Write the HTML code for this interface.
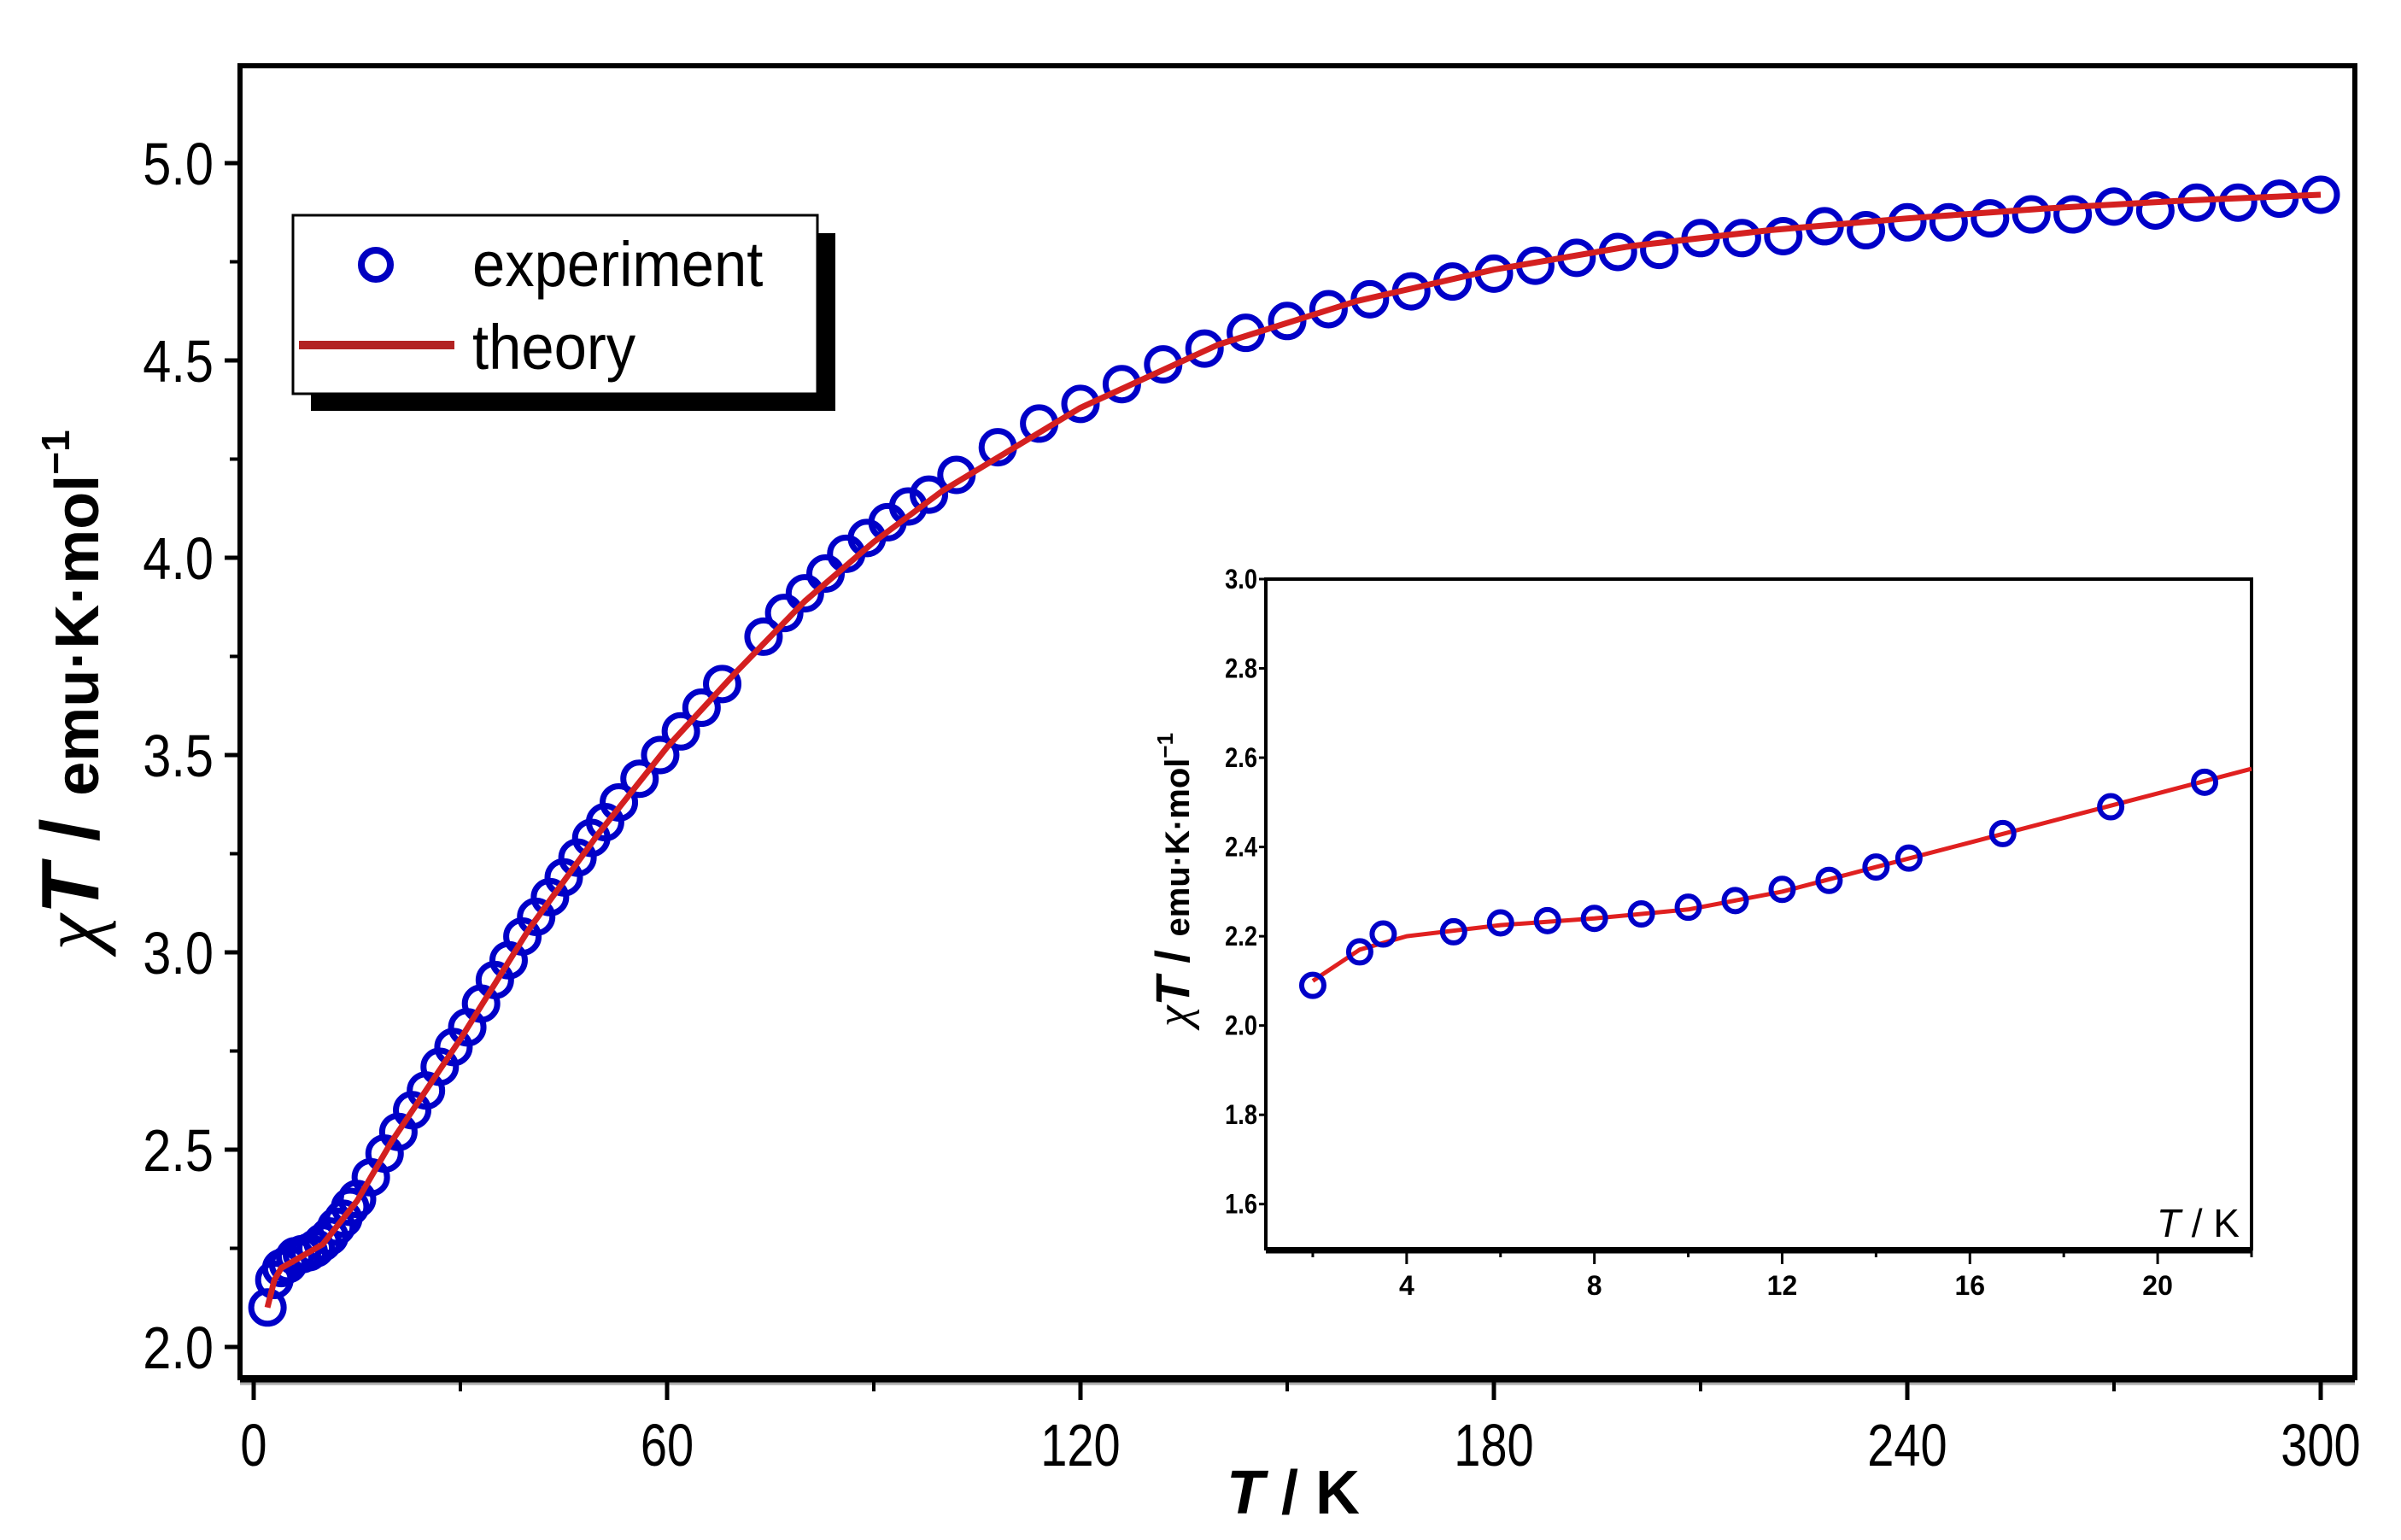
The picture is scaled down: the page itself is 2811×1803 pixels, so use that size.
<!DOCTYPE html>
<html><head><meta charset="utf-8"><style>
html,body{margin:0;padding:0;background:#fff;}
svg{display:block;font-family:"Liberation Sans",Arial,sans-serif;}
</style></head><body>
<svg id="chart" width="2811" height="1803" viewBox="0 0 2811 1803" xmlns="http://www.w3.org/2000/svg">
<rect x="0" y="0" width="2811" height="1803" fill="#fff"/>
<g id="main"></g>
<g id="inset"></g>
<g id="legend">
  <rect x="364" y="273" width="614" height="208" fill="#000"/>
  <rect x="343" y="252" width="614" height="209" fill="#fff" stroke="#000" stroke-width="3"/>
  <circle cx="440" cy="310" r="17" fill="none" stroke="#0000c0" stroke-width="8"/>
  <text x="553" y="335" font-size="74" fill="#000" transform="translate(553 0) scale(0.93 1) translate(-553 0)">experiment</text>
  <line x1="350" y1="404" x2="532" y2="404" stroke="#b22222" stroke-width="10"/>
  <text x="553" y="432" font-size="74" fill="#000" transform="translate(553 0) scale(0.93 1) translate(-553 0)">theory</text>
</g>
</svg>
<script>
// main chart data
const expT = [2,3,4,5,6,7,8,9,10,11,12,13,14,15,17,19,21,23,25,27,29,31,33,35,37,39,41,43,45,47,49,51,53,56,59,62,65,68,74,77,80,83,86,89,92,95,98,102,108,114,120,126,132,138,144,150,156,162,168,174,180,186,192,198,204,210,216,222,228,234,240,246,252,258,264,270,276,282,288,294,300];
const expChi = [2.10,2.17,2.20,2.21,2.23,2.235,2.24,2.25,2.265,2.28,2.305,2.325,2.355,2.375,2.43,2.49,2.545,2.60,2.65,2.71,2.76,2.81,2.87,2.93,2.98,3.04,3.09,3.14,3.19,3.24,3.29,3.33,3.38,3.44,3.50,3.56,3.62,3.68,3.80,3.86,3.91,3.96,4.01,4.05,4.09,4.13,4.16,4.21,4.28,4.34,4.39,4.44,4.49,4.53,4.57,4.60,4.63,4.655,4.675,4.70,4.72,4.74,4.76,4.775,4.78,4.81,4.81,4.815,4.84,4.83,4.85,4.85,4.86,4.87,4.87,4.89,4.88,4.90,4.90,4.91,4.92];
const thT = [2,3,4,6,10,15,20,30,40,50,60,70,80,90,100,120,140,160,180,200,220,240,260,280,300];
const thChi = [2.10,2.17,2.20,2.22,2.26,2.37,2.52,2.78,3.06,3.30,3.52,3.71,3.89,4.04,4.17,4.38,4.54,4.65,4.73,4.79,4.83,4.86,4.885,4.905,4.92];
const xTicks = [0,60,120,180,240,300];
const xMinor = [30,90,150,210,270];
const yTicks = [2.0,2.5,3.0,3.5,4.0,4.5,5.0];
const yMinor = [2.25,2.75,3.25,3.75,4.25,4.75];
// inset data
const inExpT = [2,3,3.5,5,6,7,8,9,10,11,12,13,14,14.7,16.7,19,21];
const inExpChi = [2.09,2.165,2.205,2.21,2.23,2.235,2.24,2.25,2.265,2.28,2.305,2.325,2.355,2.375,2.43,2.49,2.545];
const inThT = [2,3,4,6,8,10,12,14,16,18,20,22];
const inThChi = [2.10,2.17,2.20,2.225,2.24,2.26,2.30,2.355,2.41,2.465,2.52,2.575];
const inXTicks = [4,8,12,16,20];
const inXMinor = [2,6,10,14,18,22];
const inYTicks = [1.6,1.8,2.0,2.2,2.4,2.6,2.8,3.0];

const NS = "http://www.w3.org/2000/svg";
function mk(parent, tag, attrs){
  const e = document.createElementNS(NS, tag);
  for (const k in attrs) e.setAttribute(k, attrs[k]);
  parent.appendChild(e);
  return e;
}
function narrow(e, x, s){ e.setAttribute('transform','translate('+x+' 0) scale('+s+' 1) translate('+(-x)+' 0)'); }
// main axes
const M = {l:281, r:2757, t:77, b:1613};
const mx = v => 297 + (v - 0) * (2717 - 297) / 300;
const my = v => 1577 - (v - 2.0) * 462;
const main = document.getElementById('main');

let e;
e = mk(main,'rect',{x:M.l,y:M.t,width:M.r-M.l,height:M.b-M.t,fill:'none',stroke:'#000','stroke-width':6});


e = mk(main,'line',{x1:M.l,y1:M.b+3,x2:M.r,y2:M.b+3,stroke:'#000','stroke-width':5});


e = mk(main,'line',{x1:M.l,y1:M.b+7,x2:M.r,y2:M.b+7,stroke:'#aaa','stroke-width':3});



xTicks.forEach(v=>{
  e = mk(main,'line',{x1:mx(v),y1:M.b,x2:mx(v),y2:M.b+26,stroke:'#000','stroke-width':5});
  
  
  e = mk(main,'text',{x:mx(v),y:1716,'font-size':70,'text-anchor':'middle',fill:'#000'});
  e.textContent = String(v);
  narrow(e, mx(v), 0.8);
  
  
});
xMinor.forEach(v=>{
  e = mk(main,'line',{x1:mx(v),y1:M.b,x2:mx(v),y2:M.b+16,stroke:'#000','stroke-width':4});
  
  
});
yTicks.forEach(v=>{
  e = mk(main,'line',{x1:263,y1:my(v),x2:M.l,y2:my(v),stroke:'#000','stroke-width':5});
  
  
  e = mk(main,'text',{x:250,y:my(v)+25,'font-size':70,'text-anchor':'end',fill:'#000'});
  e.textContent = v.toFixed(1);
  narrow(e, 250, 0.85);
  
  
});
yMinor.forEach(v=>{
  e = mk(main,'line',{x1:269,y1:my(v),x2:M.l,y2:my(v),stroke:'#000','stroke-width':4});
  
  
});
e = mk(main,'text',{x:1514,y:1772,'font-size':72,'font-weight':'bold','text-anchor':'middle',fill:'#000'});
e.innerHTML = '<tspan font-style="italic">T</tspan> / K';


e = mk(main,'text',{x:0,y:0,'font-weight':'bold','text-anchor':'middle',fill:'#000',transform:'translate(115,808) rotate(-90)'});
e.innerHTML = '<tspan font-size="96" font-style="italic" font-family="Liberation Serif,serif" font-weight="normal">χ</tspan><tspan font-size="96" font-style="italic">T</tspan><tspan font-size="96"> / </tspan><tspan font-size="72">emu·K·mol</tspan><tspan font-size="46" dy="-34">−1</tspan>';



let d = thT.map((t,i)=>(i?'L':'M')+mx(t).toFixed(1)+' '+my(thChi[i]).toFixed(1)).join(' ');
expT.forEach((t,i)=>{
  e = mk(main,'circle',{cx:mx(t),cy:my(expChi[i]),r:19,fill:'none',stroke:'#0000c8','stroke-width':7});
  
  
});
e = mk(main,'path',{d:d,fill:'none',stroke:'#d42020','stroke-width':7,'stroke-linejoin':'round'});



// inset
const I = {l:1482, r:2636, t:678, b:1462};
const ix = v => I.l + (v - 1) * (I.r - I.l) / 21;
const iy = v => I.b - (v - 1.5) * (I.b - I.t) / 1.5;
const inset = document.getElementById('inset');
e = mk(inset,'rect',{x:I.l,y:I.t,width:I.r-I.l,height:I.b-I.t,fill:'#fff',stroke:'#000','stroke-width':4});


e = mk(inset,'line',{x1:I.l,y1:I.b+3,x2:I.r,y2:I.b+3,stroke:'#000','stroke-width':5});


inXTicks.forEach(v=>{
  e = mk(inset,'line',{x1:ix(v),y1:I.b,x2:ix(v),y2:I.b+18,stroke:'#000','stroke-width':3});
  
  
  e = mk(inset,'text',{x:ix(v),y:1516,'font-size':32,'font-weight':'bold','text-anchor':'middle',fill:'#000'});
  e.textContent = String(v);
  
  
});
inXMinor.forEach(v=>{
  e = mk(inset,'line',{x1:ix(v),y1:I.b,x2:ix(v),y2:I.b+10,stroke:'#000','stroke-width':3});
  
  
});
inYTicks.forEach(v=>{
  e = mk(inset,'line',{x1:I.l-8,y1:iy(v),x2:I.l,y2:iy(v),stroke:'#000','stroke-width':3});
  
  
  e = mk(inset,'text',{x:I.l-10,y:iy(v)+11,'font-size':32,'font-weight':'bold','text-anchor':'end',fill:'#000'});
  e.textContent = v.toFixed(1);
  narrow(e, I.l-10, 0.85);
  
  
});
e = mk(inset,'text',{x:2622,y:1448,'font-size':46,'text-anchor':'end',fill:'#000'});
e.innerHTML = '<tspan font-style="italic">T</tspan> / K';


e = mk(inset,'text',{x:0,y:0,'font-weight':'bold','text-anchor':'middle',fill:'#000',transform:'translate(1392,1030) rotate(-90)'});
e.innerHTML = '<tspan font-size="56" font-style="italic" font-family="Liberation Serif,serif" font-weight="normal">χ</tspan><tspan font-size="56" font-style="italic">T</tspan><tspan font-size="56"> / </tspan><tspan font-size="40">emu·K·mol</tspan><tspan font-size="26" dy="-19">−1</tspan>';


let d2 = inThT.map((t,i)=>(i?'L':'M')+ix(t).toFixed(1)+' '+iy(inThChi[i]).toFixed(1)).join(' ');
e = mk(inset,'path',{d:d2,fill:'none',stroke:'#e02020','stroke-width':5,'stroke-linejoin':'round'});


inExpT.forEach((t,i)=>{
  e = mk(inset,'circle',{cx:ix(t),cy:iy(inExpChi[i]),r:13,fill:'none',stroke:'#0000c8','stroke-width':6});
  
  
});
</script>
</body></html>
